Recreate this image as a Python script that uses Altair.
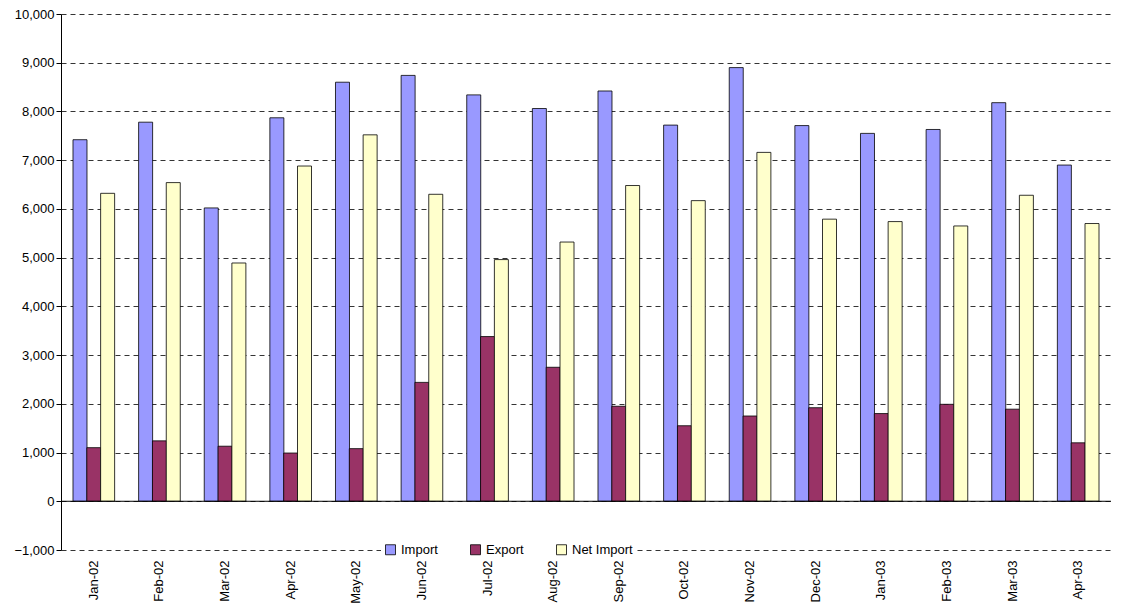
import altair as alt
import pandas as pd

months = ["Jan-02","Feb-02","Mar-02","Apr-02","May-02","Jun-02","Jul-02","Aug-02",
          "Sep-02","Oct-02","Nov-02","Dec-02","Jan-03","Feb-03","Mar-03","Apr-03"]
imports = [7420,7780,6020,7870,8600,8740,8340,8060,8420,7720,8900,7710,7550,7630,8180,6900]
exports = [1100,1240,1130,990,1080,2440,3380,2750,1950,1550,1750,1920,1800,1990,1890,1200]
net = [6320,6540,4890,6880,7520,6300,4960,5320,6480,6170,7160,5790,5740,5650,6280,5700]
series = ["Import","Export","Net Import"]
colors = ["#9999FF","#993366","#FFFFCC"]

rows = []
for i, m in enumerate(months):
    for s, v in zip(series, [imports[i], exports[i], net[i]]):
        rows.append({"month": m, "series": s, "value": v})
df = pd.DataFrame(rows)

F = "Liberation Sans"
yscale = alt.Scale(domain=[-1000, 10000], nice=False)
yaxis = alt.Axis(values=list(range(-1000, 10001, 1000)), format=",d", labelFontSize=13,
                 labelFont=F, labelColor="black", gridColor="black", gridDash=[5, 4],
                 gridWidth=0.8, domainColor="black", tickColor="black", grid=True)
bars = alt.Chart(df).mark_bar(stroke="black", strokeWidth=0.8, width=14).encode(
    x=alt.X("month:N", sort=months, title=None,
            scale=alt.Scale(paddingInner=0.0, paddingOuter=0.0),
            axis=alt.Axis(labelAngle=-90, labelFontSize=13, labelFont=F, labelColor="black",
                          domain=False, ticks=False, labelPadding=10)),
    xOffset=alt.XOffset("series:N", sort=series, scale=alt.Scale(paddingInner=0.05, paddingOuter=0.9)),
    y=alt.Y("value:Q", title=None, scale=yscale, axis=yaxis),
    color=alt.Color("series:N", sort=series, scale=alt.Scale(domain=series, range=colors),
                    legend=alt.Legend(orient="none", legendX=320, legendY=526, direction="horizontal",
                                      title=None, labelFont=F, labelFontSize=13, symbolType="square",
                                      symbolStrokeColor="black", symbolStrokeWidth=0.8,
                                      fillColor="white", padding=3, columnPadding=30)),
)
zero = alt.Chart(pd.DataFrame({"value": [0]})).mark_rule(color="black").encode(
    y=alt.Y("value:Q", title=None, scale=yscale, axis=yaxis))

chart = alt.layer(bars, zero).properties(width=1050, height=536, padding={"top": 0, "left": 5, "right": 5, "bottom": 0}).configure_view(
    stroke=None).configure_axisX(grid=False)
chart.save("out.html", embed_options={"renderer": "svg", "actions": False})
